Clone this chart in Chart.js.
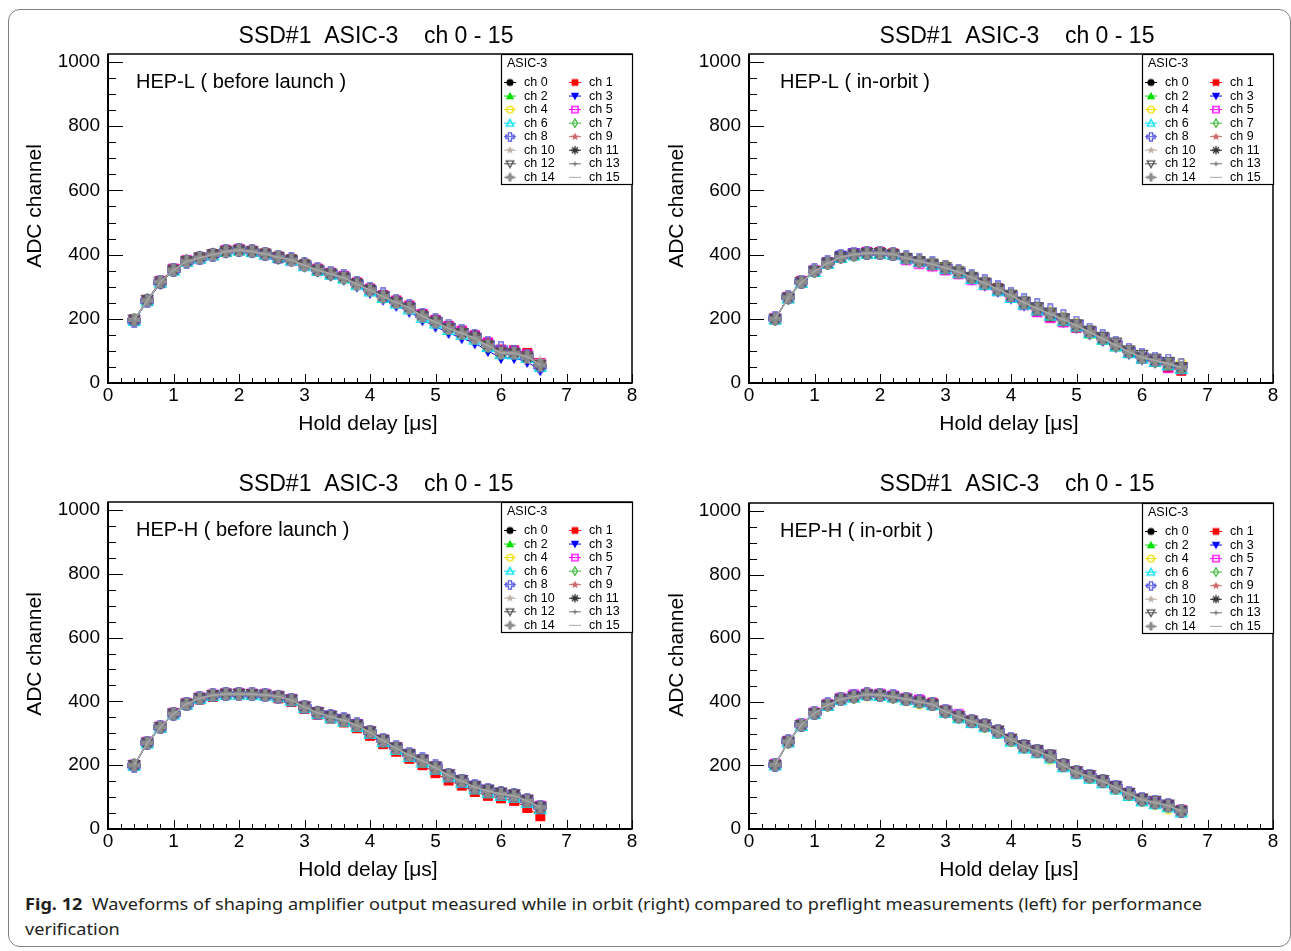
<!DOCTYPE html>
<html>
<head>
<meta charset="utf-8">
<script src="https://cdn.jsdelivr.net/npm/chart.js@4.4.0/dist/chart.umd.min.js"></script>
<style>
html, body { margin: 0; padding: 0; background: #fff; }
body { width: 1291px; height: 951px; position: relative; overflow: hidden; }
#frame { position: absolute; left: 8px; top: 9px; width: 1283px; height: 938px; border: 1px solid #808080; border-radius: 12px; box-sizing: border-box; }
canvas { position: absolute; }
#cap { position: absolute; left: 25px; top: 891px; font-family: "Noto Sans", sans-serif; font-size: 16.5px; line-height: 25px; color: #231f20; white-space: nowrap; transform-origin: 0 0; }
#cap span.line { display: inline-block; }
</style>
</head>
<body>
<div id="frame"></div>
<canvas id="c0" width="641" height="448" style="left:0px;top:0px"></canvas>
<canvas id="c1" width="650" height="448" style="left:641px;top:0px"></canvas>
<canvas id="c2" width="641" height="440" style="left:0px;top:448px"></canvas>
<canvas id="c3" width="650" height="440" style="left:641px;top:448px"></canvas>
<div id="cap"><span class="line" id="cap1"><b>Fig. 12</b>&nbsp; Waveforms of shaping amplifier output measured while in orbit (right) compared to preflight measurements (left) for performance</span><br><span class="line">verification</span></div>
<script>
// hold delay in microseconds
const holdDelay = [0.4, 0.6, 0.8, 1.0, 1.2, 1.4, 1.6, 1.8, 2.0, 2.2, 2.4, 2.6, 2.8, 3.0, 3.2, 3.4,
                   3.6, 3.8, 4.0, 4.2, 4.4, 4.6, 4.8, 5.0, 5.2, 5.4, 5.6, 5.8, 6.0, 6.2, 6.4, 6.6];
const xTicks = [0, 1, 2, 3, 4, 5, 6, 7, 8];
const yTicks = [0, 200, 400, 600, 800, 1000];
const channelNames = ['ch 0','ch 1','ch 2','ch 3','ch 4','ch 5','ch 6','ch 7',
                      'ch 8','ch 9','ch 10','ch 11','ch 12','ch 13','ch 14','ch 15'];
const markerKinds = ['fcircle','fsquare','ftri','ftridown','ocircle','osquare','otri','odiamond',
                     'ocross','fstar','fstar','asterisk','otridown','fstar4','fcross','none'];
const markerColors = ['#000000','#ff0000','#00e000','#0000ff','#f0e000','#ff00ff','#00e0f0','#44bb44',
                      '#5a5ae0','#cc6464','#bfb0a6','#333333','#505050','#747474','#8c8c8c','#a8a8a8'];

// HEP-L before launch
const tlBase = [197,257,315,352,379,390,400,410,414,410,402,392,383,367,352,340,328,308,289,269,251,234,208,190,170,155,140,116,94,93,82,56];
const hepLBefore = [
  [196,258,316,353,380,391,401,411,415,409,401,391,382,366,351,339,327,307,287,268,250,233,207,188,169,153,138,114,92,91,80,54],
  [198,259,318,356,382,392,402,414,417,412,404,394,386,370,356,343,333,313,294,274,257,241,215,196,178,163,148,126,104,102,94,62],
  [195,256,314,351,378,388,398,409,413,409,401,391,383,367,352,340,328,309,290,270,252,235,210,192,173,158,143,120,98,97,86,58],
  [194,254,312,349,376,387,397,407,411,407,399,389,380,363,348,335,322,301,281,260,241,222,196,176,156,140,124,100,78,78,66,40],
  [197,258,316,353,380,391,401,411,415,411,403,393,384,368,353,341,329,309,290,270,252,235,209,191,171,156,141,117,95,94,83,57],
  [196,257,316,354,381,389,399,412,416,411,401,390,382,367,354,342,332,311,292,272,254,238,213,195,175,160,147,124,101,98,88,60],
  [193,255,313,350,377,388,398,409,413,408,400,390,381,364,349,337,325,305,285,265,247,229,203,185,165,150,135,112,90,89,78,50],
  [197,258,316,353,379,390,400,410,414,410,402,392,383,367,352,340,328,308,289,269,251,234,208,190,170,155,140,116,95,94,82,56],
  [194,256,314,352,378,389,399,411,415,411,403,393,386,370,355,344,332,312,293,276,256,240,212,196,178,162,146,124,108,96,84,52],
  [197,259,317,354,381,392,402,412,415,411,403,393,385,369,354,342,330,310,291,271,253,236,210,192,174,159,144,125,99,96,86,58],
  [198,258,315,350,376,387,396,405,410,407,400,390,380,364,350,338,324,304,292,272,248,228,206,188,168,150,134,114,92,90,72,68],
  [197,258,310,352,380,392,402,408,413,410,403,388,385,372,352,340,330,312,292,270,252,236,212,194,172,156,146,118,96,94,80,54],
  [198,259,316,353,380,391,401,411,415,411,403,393,384,368,353,341,329,309,290,270,252,235,209,191,171,156,141,117,95,94,83,57],
  tlBase, tlBase, tlBase
];

// HEP-L in orbit
const trBase = [200,266,314,348,373,392,400,404,404,401,389,379,370,359,346,329,311,292,272,250,232,215,198,179,158,138,118,97,80,70,60,48];
const hepLOrbit = [
  [199,265,313,347,372,391,399,403,403,400,388,378,369,358,345,328,310,291,271,249,231,214,197,178,157,137,117,96,79,69,59,47],
  [201,268,318,350,376,395,403,408,408,404,390,378,368,354,342,325,313,296,268,243,222,204,190,172,162,140,116,94,76,66,48,38],
  [198,264,312,346,371,390,398,402,402,399,387,377,368,353,342,326,308,290,270,248,230,208,192,175,154,134,114,94,77,67,56,46],
  [200,266,315,350,376,397,405,406,404,400,386,376,366,354,342,323,304,285,264,242,224,208,190,172,152,132,112,91,74,64,54,42],
  [199,265,314,348,372,392,398,402,403,400,390,382,374,366,352,332,314,295,275,252,236,222,205,186,164,142,122,100,82,72,60,60],
  [201,266,316,350,374,392,402,406,405,401,384,372,364,352,340,322,306,288,268,244,222,204,190,174,160,140,118,96,78,70,48,44],
  [198,264,312,346,371,390,398,403,403,400,388,378,369,355,342,324,306,286,265,244,226,210,194,176,156,135,114,93,76,66,55,44],
  [200,266,314,348,373,392,400,404,404,401,389,379,370,357,345,329,312,294,273,251,233,214,196,178,160,140,118,97,80,70,60,48],
  [201,268,316,351,376,396,403,405,405,403,391,382,373,361,349,333,317,298,278,258,242,226,208,188,166,146,124,103,86,76,70,56],
  [200,267,315,349,374,393,401,405,405,402,390,380,371,360,347,330,313,295,274,252,234,217,200,181,161,141,121,99,82,72,62,50],
  [199,266,313,348,372,392,399,404,403,401,388,379,369,359,345,329,310,292,271,250,231,215,197,179,157,138,117,97,79,70,59,48],
  trBase,
  [200,266,315,349,374,393,401,405,405,402,390,380,372,361,348,331,313,294,275,254,236,218,201,183,163,144,126,102,88,76,66,50],
  trBase, trBase, trBase
];

// HEP-H before launch
const blBase = [200,270,319,361,392,410,419,423,423,422,420,415,404,382,364,352,341,325,303,277,253,231,214,192,168,150,131,119,110,104,88,68];
const hepHBefore = [
  [199,269,318,360,391,409,418,422,422,421,419,414,403,381,363,351,340,324,302,276,252,230,213,191,167,149,130,118,109,103,87,67],
  [200,270,318,360,389,406,414,420,424,421,417,410,398,376,358,346,334,316,292,266,242,220,200,175,152,136,116,104,96,88,66,40],
  [200,271,320,362,393,411,420,424,424,423,421,416,405,383,365,353,342,326,304,278,254,232,215,193,169,151,132,120,111,105,89,69],
  [199,269,318,361,392,410,420,424,424,423,421,416,406,384,366,356,345,329,306,280,256,236,218,196,172,154,136,124,114,108,92,70],
  [201,271,320,362,392,410,420,425,425,423,420,414,403,381,363,351,340,324,302,276,252,230,213,191,167,149,130,118,109,103,87,67],
  [201,272,321,363,394,412,421,425,425,424,422,417,406,384,366,354,343,327,305,279,255,233,216,194,170,152,133,121,112,106,90,72],
  [198,268,317,359,390,408,417,421,421,420,418,413,402,379,360,347,336,320,298,272,248,226,208,186,162,144,124,112,104,98,82,62],
  blBase,
  [199,270,319,361,392,410,419,423,423,422,420,415,404,382,364,354,344,328,304,280,258,236,218,196,170,152,134,122,112,106,90,70],
  blBase, blBase,
  [200,270,320,362,393,411,420,424,424,423,421,416,405,383,366,355,343,327,305,279,255,233,216,194,170,152,133,122,114,108,90,68],
  [201,271,320,362,393,411,420,424,424,423,421,416,406,384,366,354,343,327,306,280,256,235,218,196,171,153,134,123,114,108,92,70],
  blBase, blBase, blBase
];

// HEP-H in orbit
const brBase = [202,275,327,364,390,408,416,423,421,416,408,400,392,369,353,338,325,306,280,259,244,228,200,178,164,150,130,110,92,83,73,57];
const hepHOrbit = [
  [201,274,326,363,389,407,415,422,420,415,407,399,391,368,352,337,324,305,279,258,243,227,199,177,163,149,129,109,91,82,72,56],
  [203,276,328,365,391,409,417,424,423,418,410,404,397,372,356,341,328,309,283,262,247,231,203,181,167,153,133,113,95,86,76,60],
  [201,275,326,364,389,408,415,423,420,416,407,400,391,369,352,338,324,306,279,259,243,228,199,178,163,150,129,110,91,83,72,57],
  [202,275,327,364,391,410,418,424,422,418,410,401,392,370,352,336,326,307,281,260,245,228,202,180,165,152,136,114,94,84,74,56],
  [201,273,325,362,388,406,413,419,418,413,404,394,389,368,352,335,320,303,275,256,240,220,196,175,160,146,126,106,88,78,64,52],
  [203,277,329,366,392,411,422,425,424,419,410,406,394,372,360,340,326,307,282,260,245,230,201,179,166,152,132,112,94,85,75,58],
  [200,272,324,361,387,405,413,420,418,413,405,397,389,365,348,333,320,300,275,253,238,222,194,172,158,144,124,104,87,78,68,52],
  brBase,
  [202,276,328,366,392,409,417,424,422,417,409,401,393,370,354,340,327,308,282,261,246,230,202,180,166,152,133,112,94,86,75,58],
  brBase, brBase, brBase,
  [202,275,327,364,390,408,416,423,421,416,408,400,393,372,355,341,329,310,284,264,249,234,204,182,170,154,134,113,96,89,77,58],
  brBase, brBase, brBase
];

const FONT = '"Liberation Sans", Arial, Helvetica, sans-serif';
const TITLE = 'SSD#1  ASIC-3    ch 0 - 15';

function makeMarker(kind, color, s) {
  const cv = document.createElement('canvas');
  cv.width = s; cv.height = s;
  const g = cv.getContext('2d');
  const m = s / 2, r = s / 2 - 0.8;
  g.fillStyle = color; g.strokeStyle = color; g.lineWidth = 1.3;
  const poly = pts => {
    g.beginPath();
    pts.forEach(([x, y], k) => k ? g.lineTo(m + x, m + y) : g.moveTo(m + x, m + y));
    g.closePath();
  };
  const star = (n, ro, ri) => {
    const pts = [];
    for (let k = 0; k < 2 * n; k++) {
      const ang = -Math.PI / 2 + k * Math.PI / n;
      const rr = k % 2 ? ri : ro;
      pts.push([rr * Math.cos(ang), rr * Math.sin(ang)]);
    }
    poly(pts);
  };
  const a = r * 0.36;
  const plus = [[-a,-r],[a,-r],[a,-a],[r,-a],[r,a],[a,a],[a,r],[-a,r],[-a,a],[-r,a],[-r,-a],[-a,-a]];
  switch (kind) {
    case 'fcircle': g.beginPath(); g.arc(m, m, r * 0.85, 0, 2 * Math.PI); g.fill(); break;
    case 'ocircle': g.beginPath(); g.arc(m, m, r * 0.8, 0, 2 * Math.PI); g.stroke(); break;
    case 'fsquare': g.fillRect(m - r * 0.8, m - r * 0.8, r * 1.6, r * 1.6); break;
    case 'osquare': g.strokeRect(m - r * 0.75, m - r * 0.75, r * 1.5, r * 1.5); break;
    case 'ftri': poly([[0,-r],[r,r*0.75],[-r,r*0.75]]); g.fill(); break;
    case 'otri': poly([[0,-r*0.9],[r*0.9,r*0.7],[-r*0.9,r*0.7]]); g.stroke(); break;
    case 'ftridown': poly([[0,r],[r,-r*0.75],[-r,-r*0.75]]); g.fill(); break;
    case 'otridown': poly([[0,r*0.9],[r*0.9,-r*0.7],[-r*0.9,-r*0.7]]); g.stroke(); break;
    case 'odiamond': poly([[0,-r],[r*0.6,0],[0,r],[-r*0.6,0]]); g.stroke(); break;
    case 'ocross': poly(plus); g.stroke(); break;
    case 'fcross': poly(plus); g.fill(); break;
    case 'fstar': star(5, r, r * 0.42); g.fill(); break;
    case 'fstar4': star(4, r * 0.8, r * 0.25); g.fill(); break;
    case 'asterisk':
      g.beginPath();
      for (let k = 0; k < 4; k++) {
        const ang = k * Math.PI / 4;
        g.moveTo(m - r * Math.cos(ang), m - r * Math.sin(ang));
        g.lineTo(m + r * Math.cos(ang), m + r * Math.sin(ang));
      }
      g.stroke();
      break;
  }
  return cv;
}

const plotMarkers = markerKinds.map((k, i) => makeMarker(k, markerColors[i], 14));
const legendMarkers = markerKinds.map((k, i) => makeMarker(k, markerColors[i], 10));

function line(ctx, x1, y1, x2, y2) {
  ctx.beginPath(); ctx.moveTo(x1, y1); ctx.lineTo(x2, y2); ctx.stroke();
}

const panelDeco = {
  id: 'panelDeco',
  afterDraw(chart, args, o) {
    const ctx = chart.ctx, a = chart.chartArea;
    const xs = chart.scales.x, ys = chart.scales.y;
    ctx.save();
    ctx.strokeStyle = '#000';
    ctx.lineWidth = 1;
    // ticks inside the frame
    for (let v = 0; v <= 1000; v += 50) {
      const py = Math.round(ys.getPixelForValue(v)) + 0.5;
      line(ctx, a.left, py, a.left + (v % 200 === 0 ? 15 : 8), py);
    }
    for (let i = 0; i <= 40; i++) {
      const px = Math.round(xs.getPixelForValue(i / 5)) + 0.5;
      line(ctx, px, a.bottom, px, a.bottom - (i % 5 === 0 ? 9 : 5));
    }
    // frame
    ctx.lineWidth = 1.5;
    ctx.strokeRect(a.left, a.top, a.right - a.left, a.bottom - a.top);
    ctx.lineWidth = 2;
    line(ctx, a.left, a.top, a.left, a.bottom + 1);
    line(ctx, a.left - 1, a.bottom, a.right, a.bottom);

    // texts
    ctx.fillStyle = '#000';
    ctx.textBaseline = 'middle';
    ctx.textAlign = 'center';
    ctx.font = '23px ' + FONT;
    ctx.fillText(TITLE, 376, 37);
    ctx.font = '21px ' + FONT;
    ctx.fillText('Hold delay [\u03bcs]', 368, a.bottom + 41);
    ctx.save();
    ctx.translate(o.yTitleX, a.top + 152);
    ctx.rotate(-Math.PI / 2);
    ctx.fillText('ADC channel', 0, 0);
    ctx.restore();
    ctx.textAlign = 'left';
    ctx.font = '20px ' + FONT;
    ctx.fillText(o.label, o.labelX, a.top + 28);

    // legend box
    const lx = 501, ly = a.top, lw = a.right - lx, lh = 130;
    ctx.fillStyle = '#fff';
    ctx.fillRect(lx, ly, lw, lh);
    ctx.lineWidth = 1.2;
    ctx.strokeRect(lx + 0.5, ly + 0.5, lw, lh);
    ctx.fillStyle = '#000';
    ctx.font = '12.5px ' + FONT;
    ctx.fillText('ASIC-3', lx + 6, ly + 10);
    ctx.lineWidth = 1;
    channelNames.forEach((name, i) => {
      const col = i % 2, row = Math.floor(i / 2);
      const mx = lx + 9 + col * 65, my = ly + 28.5 + row * 13.55;
      ctx.strokeStyle = markerColors[i];
      line(ctx, mx - 6, my, mx + 6, my);
      if (markerKinds[i] !== 'none') ctx.drawImage(legendMarkers[i], mx - 5, my - 5);
      ctx.fillStyle = '#000';
      ctx.fillText(name, mx + 14, my);
    });
    ctx.restore();
  }
};

const panels = [
  { id: 'c0', label: 'HEP-L ( before launch )', series: hepLBefore, top: 54, xAxisH: 65, padRight: 9, labelX: 136, yTitleX: 35 },
  { id: 'c1', label: 'HEP-L ( in-orbit )', series: hepLOrbit, top: 54, xAxisH: 65, padRight: 18, labelX: 139, yTitleX: 36 },
  { id: 'c2', label: 'HEP-H ( before launch )', series: hepHBefore, top: 54, xAxisH: 59, padRight: 9, labelX: 136, yTitleX: 35 },
  { id: 'c3', label: 'HEP-H ( in-orbit )', series: hepHOrbit, top: 55, xAxisH: 59, padRight: 18, labelX: 139, yTitleX: 36 }
];

panels.forEach(p => {
  const datasets = p.series.map((vals, i) => ({
    label: channelNames[i],
    data: holdDelay.map((x, j) => ({ x: x, y: vals[j] })),
    borderColor: markerColors[i],
    backgroundColor: markerColors[i],
    borderWidth: i === 15 ? 1.5 : 1,
    pointStyle: i === 15 ? false : plotMarkers[i],
    pointRadius: i === 15 ? 0 : 7,
    showLine: true,
    tension: 0,
    order: 15 - i
  }));
  new Chart(document.getElementById(p.id), {
    type: 'scatter',
    data: { datasets },
    options: {
      responsive: false,
      animation: false,
      devicePixelRatio: 1,
      layout: { padding: { left: 0, top: p.top, right: p.padRight, bottom: 0 } },
      scales: {
        x: {
          type: 'linear', min: 0, max: 8,
          afterFit: s => { s.height = p.xAxisH; },
          afterBuildTicks: s => { s.ticks = xTicks.map(v => ({ value: v })); },
          grid: { display: false, drawTicks: false },
          border: { display: false },
          ticks: { autoSkip: false, maxRotation: 0, padding: 1, color: '#000',
                   font: { family: FONT, size: 19 }, callback: v => String(v) }
        },
        y: {
          type: 'linear', min: 0, max: 1025,
          afterFit: s => { s.width = 108; },
          afterBuildTicks: s => { s.ticks = yTicks.map(v => ({ value: v })); },
          grid: { display: false, drawTicks: false },
          border: { display: false },
          ticks: { padding: 8, color: '#000',
                   font: { family: FONT, size: 19 }, callback: v => String(v) }
        }
      },
      plugins: {
        legend: { display: false },
        tooltip: { enabled: false },
        panelDeco: { label: p.label, labelX: p.labelX, yTitleX: p.yTitleX }
      }
    },
    plugins: [panelDeco]
  });
});

// fit the caption's first line to the reference width
const capW = document.getElementById('cap1').getBoundingClientRect().width;
document.getElementById('cap').style.transform = 'scaleX(' + (1177 / capW) + ')';
</script>
</body>
</html>
